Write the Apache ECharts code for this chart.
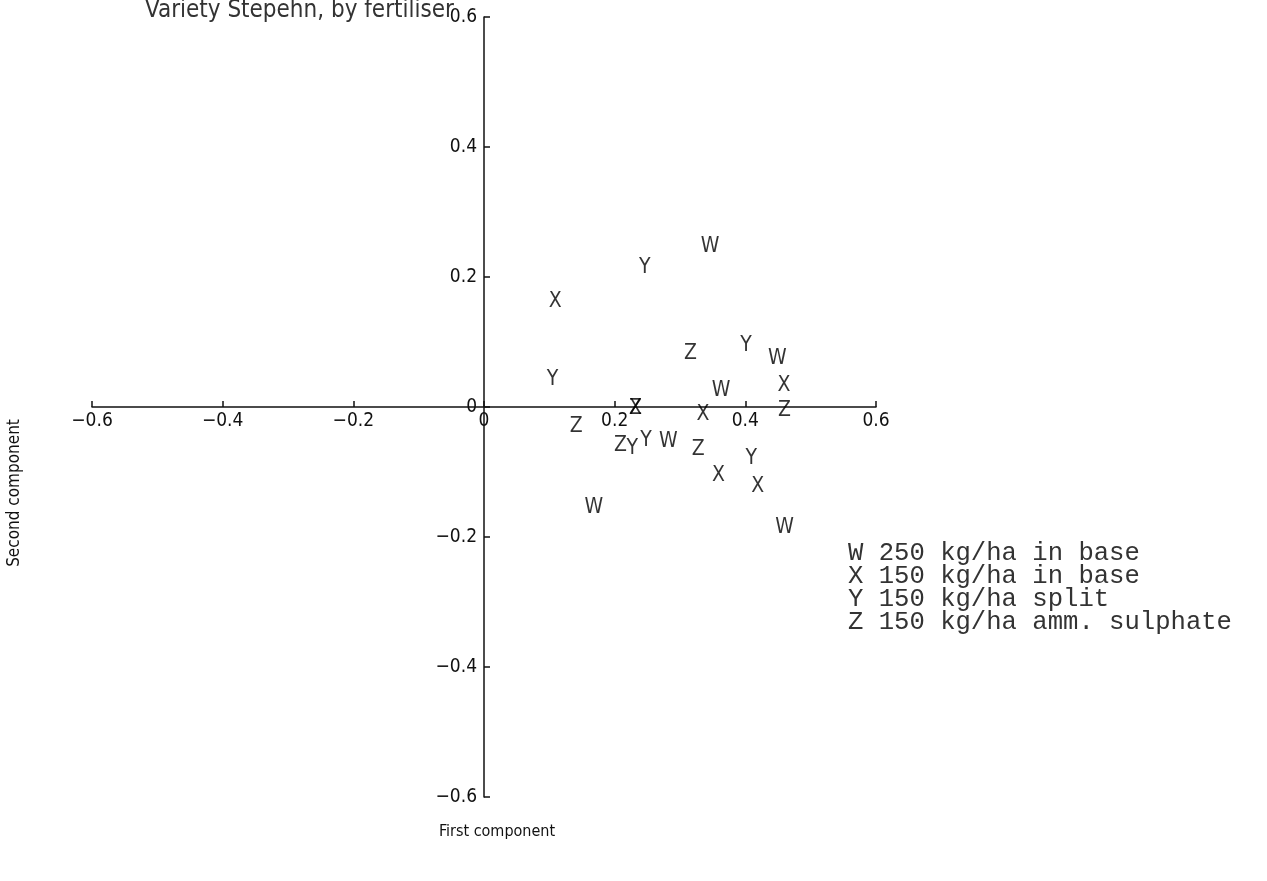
<!DOCTYPE html>
<html>
<head>
<meta charset="utf-8">
<script src="https://cdn.jsdelivr.net/npm/echarts@6/dist/echarts.min.js"></script>
<style>
html,body{margin:0;padding:0;background:#fff;}
#chart{width:1267px;height:881px;}
</style>
</head>
<body>
<div id="chart"></div>
<script>
// ---- data ----
var titleText = 'Variety Stepehn, by fertiliser';
var xName = 'First component';
var yName = 'Second component';
var wPoints = [[0.346,0.247],[0.449,0.075],[0.363,0.026],[0.282,-0.053],[0.168,-0.155],[0.460,-0.186]];
var xPoints = [[0.109,0.162],[0.459,0.033],[0.232,-0.002],[0.335,-0.011],[0.359,-0.105],[0.419,-0.123]];
var yPoints = [[0.246,0.214],[0.401,0.095],[0.105,0.042],[0.227,-0.064],[0.248,-0.052],[0.409,-0.080]];
var zPoints = [[0.316,0.083],[0.460,-0.005],[0.141,-0.030],[0.209,-0.060],[0.328,-0.066],[0.232,-0.002]];
var seriesLetters = ['W','X','Y','Z'];
var legendLines = ['W 250 kg/ha in base','X 150 kg/ha in base','Y 150 kg/ha split','Z 150 kg/ha amm. sulphate'];

var narrow = '"DejaVu Sans Condensed","Liberation Sans Narrow",sans-serif';
var chart = echarts.init(document.getElementById('chart'));

var allPoints = [wPoints, xPoints, yPoints, zPoints];
var series = allPoints.map(function(pts, i){
  return {
    type:'scatter', name: seriesLetters[i], data: pts,
    symbol:'circle', symbolSize:1,
    itemStyle:{color:'rgba(0,0,0,0)'},
    label:{show:true, position:'inside', formatter: seriesLetters[i],
      fontFamily: narrow, fontSize:21, color:'#000', textBorderWidth:0, fontWeight:500},
    emphasis:{disabled:true},
    silent:true
  };
});

var graphics = [
  {type:'text', x:145, y:23, style:{text:titleText, font:'24px '+narrow, fill:'#333', verticalAlign:'bottom', align:'left'}},
  {type:'text', x:497, y:832, style:{text:xName, font:'16px '+narrow, fill:'#111', align:'center', verticalAlign:'middle'}},
  {type:'text', x:15, y:493, rotation:Math.PI/2, style:{text:yName, font:'17px '+narrow, fill:'#111', align:'center', verticalAlign:'middle'}}
];
legendLines.forEach(function(t, i){
  graphics.push({type:'text', x:848, y:553 + i*23, style:{text:t, font:'25.6px "Liberation Mono","DejaVu Sans Mono",monospace', fill:'#333', align:'left', verticalAlign:'middle'}});
});

var axisCommon = {
  type:'value', min:-0.6, max:0.6, interval:0.2,
  splitLine:{show:false},
  axisLine:{show:true, onZero:false, lineStyle:{color:'#111', width:1.5}},
  axisTick:{show:true, inside:true, length:6, lineStyle:{color:'#111', width:1.5}},
  axisLabel:{fontFamily:narrow, fontSize:19, color:'#111',
    formatter:function(v){ var s = Math.round(v*10)/10; return s === 0 ? '0' : String(s).replace('-', '\u2212'); }}
};

chart.setOption({
  animation:false,
  backgroundColor:'#fff',
  grid:{left:92, right:391, top:17, bottom:84, containLabel:false},
  xAxis: Object.assign({}, axisCommon, {position:'bottom', offset:-390, axisLabel: Object.assign({}, axisCommon.axisLabel, {margin:5})}),
  yAxis: Object.assign({}, axisCommon, {position:'left', offset:-392, axisLabel: Object.assign({}, axisCommon.axisLabel, {margin:7})}),
  series: series,
  graphic: graphics
});
</script>
</body>
</html>
